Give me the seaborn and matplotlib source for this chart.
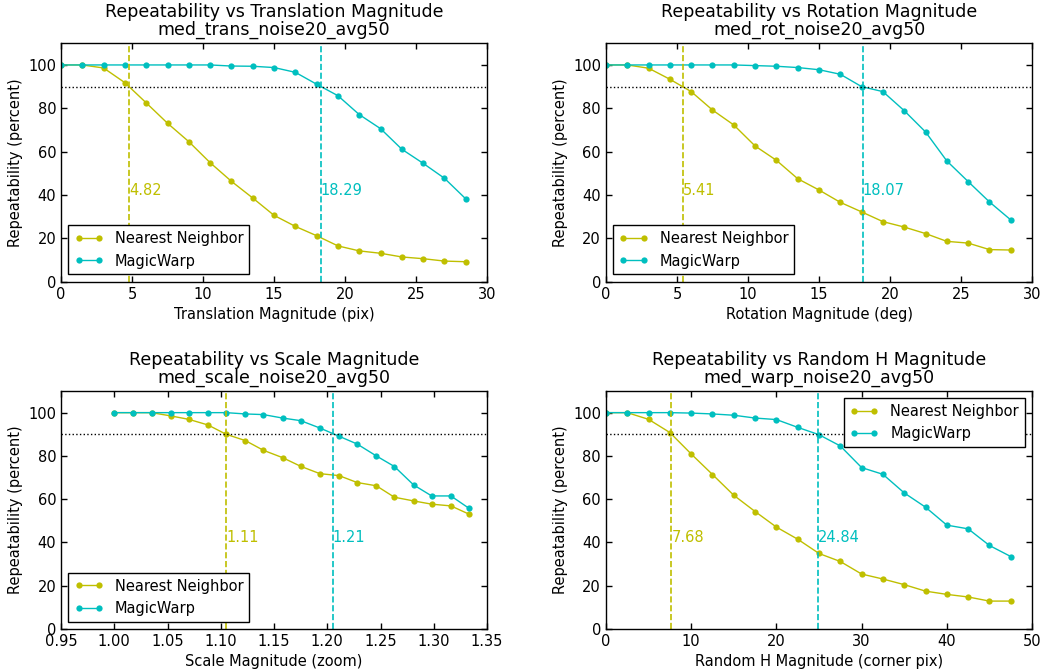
import numpy as np
import pandas as pd
import matplotlib
matplotlib.use('Agg')
import matplotlib.pyplot as plt
import seaborn as sns

# translation
trans_x = [0, 1.5, 3, 4.5, 6, 7.5, 9, 10.5, 12, 13.5, 15, 16.5, 18, 19.5, 21, 22.5, 24, 25.5, 27, 28.5]
trans_nn = [100, 100, 98.6, 91.8, 82.5, 73.1, 64.6, 54.9, 46.3, 38.6, 30.6, 25.5, 21.2, 16.5, 14.2, 13.1, 11.4, 10.6, 9.5, 9.2]
trans_mw = [100, 100, 100, 100, 100, 100, 100, 100, 99.5, 99.4, 98.8, 96.6, 91.1, 85.8, 77.1, 70.6, 61.1, 54.6, 47.7, 38.2]
trans_thr = [4.82, 18.29]

# rotation
rot_x = [0, 1.5, 3, 4.5, 6, 7.5, 9, 10.5, 12, 13.5, 15, 16.5, 18, 19.5, 21, 22.5, 24, 25.5, 27, 28.5]
rot_nn = [100, 100, 98.5, 93.4, 87.7, 79.2, 72.3, 62.6, 56.0, 47.5, 42.3, 36.6, 32.2, 27.7, 25.2, 22.2, 18.6, 17.8, 14.8, 14.6]
rot_mw = [100, 100, 100, 100, 100, 100, 100, 99.7, 99.4, 98.8, 97.8, 95.7, 90.0, 87.7, 78.9, 69.1, 55.7, 46.2, 36.8, 28.5]
rot_thr = [5.41, 18.07]

# scale
scale_x = [1.000, 1.018, 1.035, 1.053, 1.070, 1.088, 1.105, 1.123, 1.140, 1.158,
           1.175, 1.193, 1.211, 1.228, 1.246, 1.263, 1.281, 1.298, 1.316, 1.333]
scale_nn = [100, 100, 100, 98.5, 96.9, 94.3, 90.0, 87.1, 82.6, 79.2, 75.2, 71.8, 70.9, 67.7, 66.2, 60.9, 59.2, 57.7, 56.9, 53.1]
scale_mw = [100, 100, 100, 100, 100, 100, 100, 99.4, 99.1, 97.5, 96.3, 92.9, 89.1, 85.5, 80.0, 75.1, 66.6, 61.5, 61.5, 55.8]
scale_thr = [1.105, 1.205]
scale_thr_lbl = ['1.11', '1.21']

# random homography
warp_x = [0, 2.5, 5, 7.5, 10, 12.5, 15, 17.5, 20, 22.5, 25, 27.5, 30, 32.5, 35, 37.5, 40, 42.5, 45, 47.5]
warp_nn = [100, 100, 96.9, 90.8, 80.9, 71.4, 61.8, 54.3, 47.1, 41.5, 34.9, 31.2, 25.4, 23.1, 20.5, 17.5, 16.0, 14.8, 12.9, 12.9]
warp_mw = [100, 100, 100, 100, 99.8, 99.4, 98.8, 97.5, 96.8, 93.2, 89.8, 84.6, 74.6, 71.5, 62.9, 56.3, 48.0, 46.3, 38.6, 33.5]
warp_thr = [7.68, 24.84]

methods = ['Nearest Neighbor', 'MagicWarp']
colors = [(0.75, 0.75, 0), (0, 0.75, 0.75)]

sns.set_style('ticks')
plt.rcParams['font.family'] = ['DejaVu Sans']
plt.rcParams['xtick.direction'] = 'in'
plt.rcParams['ytick.direction'] = 'in'
plt.rcParams['xtick.top'] = True
plt.rcParams['ytick.right'] = True
plt.rcParams['axes.edgecolor'] = 'black'
plt.rcParams['axes.linewidth'] = 1.0
plt.rcParams['text.color'] = 'black'
plt.rcParams['axes.labelcolor'] = 'black'
plt.rcParams['xtick.color'] = 'black'
plt.rcParams['ytick.color'] = 'black'

fig = plt.figure(figsize=(10.43, 6.7), dpi=100)
pos = [[0.0585, 0.5796, 0.4085, 0.3558],
       [0.581, 0.5796, 0.4085, 0.3558],
       [0.0585, 0.0612, 0.4085, 0.3552],
       [0.581, 0.0612, 0.4085, 0.3552]]

panels = [
    ('Translation', 'med_trans_noise20_avg50', 'Translation Magnitude (pix)', trans_x, trans_nn, trans_mw,
     trans_thr, ['%.2f' % t for t in trans_thr], (0, 30), 'lower left'),
    ('Rotation', 'med_rot_noise20_avg50', 'Rotation Magnitude (deg)', rot_x, rot_nn, rot_mw,
     rot_thr, ['%.2f' % t for t in rot_thr], (0, 30), 'lower left'),
    ('Scale', 'med_scale_noise20_avg50', 'Scale Magnitude (zoom)', scale_x, scale_nn, scale_mw,
     scale_thr, scale_thr_lbl, (0.95, 1.35), 'lower left'),
    ('Random H', 'med_warp_noise20_avg50', 'Random H Magnitude (corner pix)', warp_x, warp_nn, warp_mw,
     warp_thr, ['%.2f' % t for t in warp_thr], (0, 50), 'upper right'),
]

for p, (name, sub, xlabel, xs, nn, mw, thr, lbls, xlim, loc) in zip(pos, panels):
    ax = fig.add_axes(p)
    df = pd.DataFrame({'x': xs * 2, 'rep': nn + mw, 'method': [methods[0]] * len(xs) + [methods[1]] * len(xs)})
    for m, c in zip(methods, colors):
        sub_df = df[df['method'] == m]
        sns.lineplot(data=sub_df, x='x', y='rep', color=c, marker='o', markersize=4.5,
                     markeredgewidth=0, linewidth=1, label=m, ax=ax)
    ax.axhline(90, color='black', linestyle=':', linewidth=1)
    for t, lbl, c in zip(thr, lbls, colors):
        ax.axvline(t, color=c, linestyle='--', linewidth=1.2)
        ax.text(t, 40, lbl, color=c, fontsize=10.5)
    ax.set_xlim(*xlim)
    ax.set_ylim(0, 110)
    ax.set_yticks([0, 20, 40, 60, 80, 100])
    if name == 'Scale':
        ax.set_xticks(np.arange(0.95, 1.351, 0.05))
        ax.set_xticklabels(['%.2f' % v for v in np.arange(0.95, 1.351, 0.05)])
    ax.tick_params(labelsize=10.5, length=4, width=1)
    ax.set_xlabel(xlabel, fontsize=10.5)
    ax.set_ylabel('Repeatability (percent)', fontsize=10.5)
    ax.set_title('Repeatability vs %s Magnitude\n%s' % (name, sub), fontsize=12.5, linespacing=1.0)
    leg = ax.legend(loc=loc, numpoints=2, fancybox=False, edgecolor='black', fontsize=10.5,
                    framealpha=1, borderaxespad=0.5)
    leg.get_frame().set_linewidth(1)

fig.savefig('out.png', dpi=100)
